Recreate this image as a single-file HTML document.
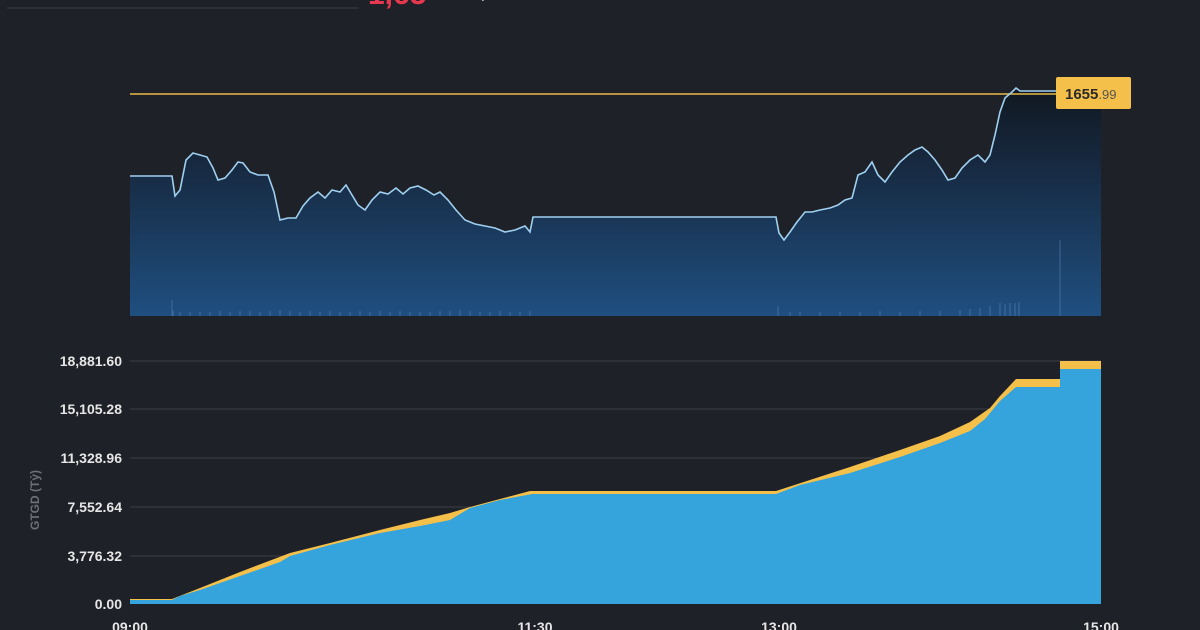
<!DOCTYPE html>
<html><head><meta charset="utf-8"><style>
html,body{margin:0;padding:0;background:#1f2128;}
svg{display:block;}
text{font-family:"Liberation Sans",sans-serif;}
</style></head><body>
<svg width="1200" height="630" viewBox="0 0 1200 630" xmlns="http://www.w3.org/2000/svg">
<defs>
<linearGradient id="g" x1="0" y1="0" x2="0" y2="1">
<stop offset="0" stop-color="#101820"/>
<stop offset="0.35" stop-color="#172a42"/>
<stop offset="1" stop-color="#1f4f80"/>
</linearGradient>
</defs>
<rect width="1200" height="630" fill="#1f2128"/>
<line x1="7" y1="8" x2="358" y2="8" stroke="#3a3d45" stroke-width="1"/>
<text x="368" y="4" fill="#e8384f" font-size="30" font-weight="bold">1,65</text>
<text x="480" y="2" fill="#fff" font-size="10" font-weight="bold">+</text>
<polygon fill="url(#g)" points="130,176 172,176 175,196 180,190 186,160 193,153 200,155 207,157 213,168 218,180 225,178 232,170 238,162 243,163 250,172 258,175 268,175 274,192 280,220 288,218 296,218 303,206 310,198 318,192 325,198 332,190 340,192 346,185 352,195 358,205 365,210 372,200 380,192 388,194 396,188 403,194 410,188 418,186 426,190 434,195 440,192 448,200 456,210 465,220 475,224 485,226 495,228 505,232 515,230 525,226 530,232 533,217 776,217 779,233 784,240 790,232 797,222 805,212 812,212 820,210 830,208 838,205 845,200 852,198 858,175 865,172 872,162 878,175 885,182 892,172 900,162 908,155 915,150 922,147 928,152 935,160 942,170 948,180 955,178 962,168 970,160 978,155 985,162 990,155 995,135 1000,112 1005,98 1012,92 1016,88 1020,91 1060,91 1060,91 1101,91 1101,316 130,316"/>
<g stroke="#4d7aa8" stroke-width="1" opacity="0.7">
<line x1="172" y1="316" x2="172" y2="300"/>
<line x1="778" y1="316" x2="778" y2="306"/>
<line x1="1060" y1="316" x2="1060" y2="240"/>
</g>
<path d="M173,316 V311 M180,316 V312 M190,316 V312 M200,316 V312 M210,316 V312 M220,316 V311 M230,316 V312 M240,316 V311 M250,316 V311 M260,316 V312 M270,316 V311 M280,316 V310 M290,316 V311 M300,316 V312 M310,316 V311 M320,316 V312 M330,316 V311 M340,316 V312 M350,316 V312 M360,316 V311 M370,316 V312 M380,316 V311 M390,316 V312 M400,316 V311 M410,316 V312 M420,316 V312 M430,316 V312 M440,316 V311 M450,316 V311 M460,316 V310 M470,316 V311 M480,316 V312 M490,316 V312 M500,316 V311 M510,316 V312 M520,316 V312 M530,316 V311 M790,316 V312 M800,316 V312 M820,316 V312 M840,316 V312 M860,316 V312 M880,316 V311 M900,316 V312 M920,316 V311 M940,316 V311 M960,316 V310 M970,316 V309 M980,316 V308 M990,316 V306 M1000,316 V303 M1005,316 V304 M1010,316 V303 M1015,316 V303 M1019,316 V302" stroke="#5b86b3" stroke-width="1" opacity="0.6"/>
<line x1="130" y1="94" x2="1060" y2="94" stroke="#e8b84a" stroke-width="1.5"/>
<polyline fill="none" stroke="#9fd0f0" stroke-width="1.6" points="130,176 172,176 175,196 180,190 186,160 193,153 200,155 207,157 213,168 218,180 225,178 232,170 238,162 243,163 250,172 258,175 268,175 274,192 280,220 288,218 296,218 303,206 310,198 318,192 325,198 332,190 340,192 346,185 352,195 358,205 365,210 372,200 380,192 388,194 396,188 403,194 410,188 418,186 426,190 434,195 440,192 448,200 456,210 465,220 475,224 485,226 495,228 505,232 515,230 525,226 530,232 533,217 776,217 779,233 784,240 790,232 797,222 805,212 812,212 820,210 830,208 838,205 845,200 852,198 858,175 865,172 872,162 878,175 885,182 892,172 900,162 908,155 915,150 922,147 928,152 935,160 942,170 948,180 955,178 962,168 970,160 978,155 985,162 990,155 995,135 1000,112 1005,98 1012,92 1016,88 1020,91 1060,91"/>
<rect x="1056" y="77" width="75" height="32" rx="2" fill="#f5c04a"/>
<text x="1065" y="99" font-size="15" font-weight="bold" fill="#2a2a2a">1655<tspan font-weight="normal" font-size="13" fill="#555">.99</tspan></text>

<g stroke="#3d4048" stroke-width="1">
<line x1="130" y1="361" x2="1101" y2="361"/>
<line x1="130" y1="409" x2="1101" y2="409"/>
<line x1="130" y1="458" x2="1101" y2="458"/>
<line x1="130" y1="507" x2="1101" y2="507"/>
<line x1="130" y1="556" x2="1101" y2="556"/>
</g>
<g font-size="14" font-weight="bold" fill="#e6e6e6" text-anchor="end">
<text x="122" y="366">18,881.60</text>
<text x="122" y="414">15,105.28</text>
<text x="122" y="463">11,328.96</text>
<text x="122" y="512">7,552.64</text>
<text x="122" y="561">3,776.32</text>
<text x="122" y="609">0.00</text>
</g>
<text transform="translate(39,500) rotate(-90)" font-size="12" font-weight="bold" fill="#6e7077" text-anchor="middle">GTGD (Tỷ)</text>
<polygon fill="#f5c04a" points="130,599 172,599 200,588 240,572 290,553 330,543 380,530 420,520 450,513 470,507 500,499 530,491 776,491 850,467 900,450 940,436 970,422 990,408 1000,396 1016,379 1060,379 1060,361 1101,361 1101,604 130,604"/>
<polygon fill="#35a3dc" points="130,600 172,600 180,596 200,590 240,576 280,562 290,556 330,545 380,533 420,526 450,520 470,508 500,500 532,494 776,494 800,485 850,473 900,457 940,443 970,431 985,419 1000,401 1016,387 1060,387 1060,369 1101,369 1101,604 130,604"/>
<g font-size="14" font-weight="bold" fill="#e6e6e6" text-anchor="middle">
<text x="130" y="632">09:00</text>
<text x="535" y="632">11:30</text>
<text x="779" y="632">13:00</text>
<text x="1101" y="632">15:00</text>
</g>
</svg>
</body></html>
